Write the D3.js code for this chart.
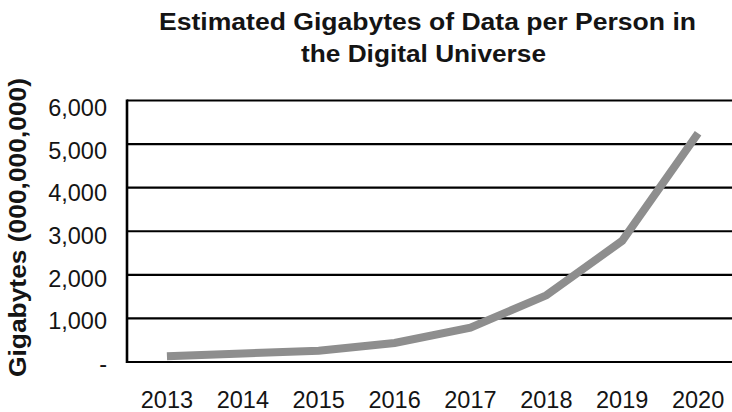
<!DOCTYPE html>
<html>
<head>
<meta charset="utf-8">
<script src="https://cdn.jsdelivr.net/npm/d3@7"></script>
<style>
  html, body { margin: 0; padding: 0; background: #fff; }
  svg { display: block; }
  text { font-family: "Liberation Sans", Arial, Helvetica, sans-serif; fill: #141414; }
</style>
</head>
<body>
<svg id="chart" width="732" height="412"></svg>
<script>
// ---- data ----
const years = ["2013", "2014", "2015", "2016", "2017", "2018", "2019", "2020"];
const gigabytesPerPerson = [130, 195, 260, 435, 790, 1530, 2780, 5247];
const yTicks = [0, 1000, 2000, 3000, 4000, 5000, 6000];
const titleLines = ["Estimated Gigabytes of Data per Person in", "the Digital Universe"];
const yAxisTitle = "Gigabytes (000,000,000)";

// ---- layout ----
const W = 732, H = 412;
const plot = { left: 127, right: 736, top: 100.5, bottom: 362 };

const svg = d3.select("#chart");

const x = d3.scaleBand().domain(years).range([129, plot.right]).padding(0);
const y = d3.scaleLinear().domain([0, 6000]).range([plot.bottom, plot.top]);
// tick labels in the original sit on a slightly different spacing than the gridlines
const yLabel = d3.scaleLinear().domain([0, 6000]).range([364, 108]);

const fmt = d3.format(",");

// gridlines
svg.append("g")
  .selectAll("line")
  .data(yTicks)
  .join("line")
  .attr("x1", plot.left)
  .attr("x2", W)
  .attr("y1", d => y(d))
  .attr("y2", d => y(d))
  .attr("stroke", "#000")
  .attr("stroke-width", 2.2);

// left axis line
svg.append("line")
  .attr("x1", plot.left).attr("x2", plot.left)
  .attr("y1", y(6000) - 1.1).attr("y2", y(0) + 1.1)
  .attr("stroke", "#000")
  .attr("stroke-width", 2.6);

// y tick labels
svg.append("g")
  .selectAll("text")
  .data(yTicks)
  .join("text")
  .attr("x", 107)
  .attr("y", d => yLabel(d))
  .attr("text-anchor", "end")
  .attr("dominant-baseline", "central")
  .attr("font-size", 23.5)
  .text(d => d === 0 ? "-" : fmt(d));

// x tick labels
svg.append("g")
  .selectAll("text")
  .data(years)
  .join("text")
  .attr("x", d => x(d) + x.bandwidth() / 2)
  .attr("y", 407.5)
  .attr("text-anchor", "middle")
  .attr("font-size", 23.5)
  .text(d => d);

// data line
const line = d3.line()
  .x((d, i) => x(years[i]) + x.bandwidth() / 2)
  .y(d => y(d));

svg.append("path")
  .datum(gigabytesPerPerson)
  .attr("d", line)
  .attr("fill", "none")
  .attr("stroke", "#8e8e8e")
  .attr("stroke-width", 8)
  .attr("stroke-linejoin", "miter")
  .attr("stroke-linecap", "butt");

// title
const titleCx = [427.5, 423.5];
const titleBaselines = [29.5, 62];
const titleWidths = [537, 245];
const t = svg.append("g");
titleLines.forEach((s, i) => {
  t.append("text")
    .attr("x", titleCx[i])
    .attr("y", titleBaselines[i])
    .attr("text-anchor", "middle")
    .attr("font-size", 23)
    .attr("font-weight", "bold")
    .attr("textLength", titleWidths[i])
    .attr("lengthAdjust", "spacingAndGlyphs")
    .text(s);
});

// y axis title
svg.append("text")
  .attr("transform", `translate(25.5, 227.5) rotate(-90)`)
  .attr("text-anchor", "middle")
  .attr("font-size", 23)
  .attr("font-weight", "bold")
  .attr("textLength", 299)
  .attr("lengthAdjust", "spacingAndGlyphs")
  .text(yAxisTitle);
</script>
</body>
</html>
